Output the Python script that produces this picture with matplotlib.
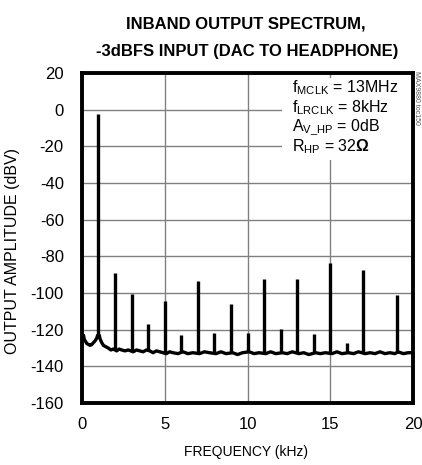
import matplotlib
matplotlib.use("Agg")
import matplotlib.pyplot as plt
import numpy as np

plt.rcParams['font.family'] = ['Liberation Sans', 'DejaVu Sans']
plt.rcParams['mathtext.fontset'] = 'custom'
plt.rcParams['mathtext.rm'] = 'Liberation Sans'
plt.rcParams['mathtext.bf'] = 'Liberation Sans:bold'
plt.rcParams['axes.unicode_minus'] = False

# noise floor (kHz, dBV)
floor_f = [0.0, 0.05, 0.1, 0.15, 0.2, 0.3, 0.4, 0.5, 0.6, 0.7, 0.8, 0.9, 0.95, 1.05, 1.1,
           1.2, 1.3, 1.4, 1.5, 1.6, 1.75, 1.9, 2.1, 2.25, 2.4, 2.6, 2.8, 3.1, 3.3, 3.5,
           3.7, 3.9, 4.1, 4.3, 4.5, 4.7, 4.9, 5.1, 5.3, 5.5, 5.8, 6.1, 6.4, 6.7, 7.1,
           7.4, 7.7, 8.1, 8.4, 8.7, 9.1, 9.4, 9.7, 10.1, 10.4, 10.7, 11.1, 11.4, 11.7,
           12.1, 12.4, 12.7, 13.1, 13.4, 13.7, 13.9, 14.1, 14.4, 14.7, 15.1, 15.4,
           15.7, 16.1, 16.4, 16.7, 17.1, 17.4, 17.7, 18.0, 18.3, 18.6, 18.9, 19.1,
           19.4, 19.7, 20.0]
floor_db = [-121, -124.5, -123, -125.5, -126, -127.5, -128, -128.5, -128, -127, -126, -124.5, -123, -123, -125,
            -127, -128.5, -129, -129.5, -130, -131, -130.5, -131.5, -130.5, -131, -131.5, -131, -132, -131, -131.5,
            -132, -131, -131.5, -132.5, -131.5, -132, -132.5, -133, -132, -132.5, -133, -132, -133, -132.5, -133,
            -132, -132.5, -133, -132, -133, -132.5, -133.5, -132.5, -132, -133, -132.5, -133, -132, -133,
            -132.5, -133, -132, -133, -132.5, -133.5, -133, -132.5, -133, -132.5, -133, -132,
            -133, -132.5, -133, -132, -133, -132.5, -133, -132, -133, -132.5, -133, -132,
            -133, -132.5, -132.5]

# harmonic spikes (kHz, dBV)
spike_f = [1, 2, 3, 4, 5, 6, 7, 8, 9, 10, 11, 12, 13, 14, 15, 16, 17, 19]
spike_db = [-2.5, -89, -100.5, -117, -104.5, -123, -93.5, -122, -106, -121.5,
            -92.5, -119.5, -92.5, -122.5, -83.5, -127, -87.5, -101]

fig = plt.figure(figsize=(4.22, 4.65), dpi=100)
ax = fig.add_axes([0.194, 0.133, 0.785, 0.71])

ax.plot(floor_f, floor_db, color='black', lw=2.4, solid_joinstyle='round')
base = np.interp(spike_f, floor_f, floor_db)
ax.vlines(spike_f, base, spike_db, color='black', lw=2.4)

ax.set_xlim(0, 20)
ax.set_ylim(-160, 20)
ax.set_xticks([0, 5, 10, 15, 20])
ax.set_yticks(range(-160, 21, 20))
ax.tick_params(length=0, labelsize=12)
ax.tick_params(axis='y', pad=13)
ax.tick_params(axis='x', pad=10)
ax.grid(True, color='#808080', lw=1.0)
for s in ax.spines.values():
    s.set_linewidth(2.8)

ax.set_xlabel('FREQUENCY (kHz)', fontsize=10)
ax.xaxis.set_label_coords(0.496, -0.128)
ax.set_ylabel('OUTPUT AMPLITUDE (dBV)', fontsize=11.5)
ax.yaxis.set_label_coords(-0.187, 0.462)
fig.text(0.582, 0.949, 'INBAND OUTPUT SPECTRUM,', ha='center', va='center',
         fontsize=12, fontweight='bold')
fig.text(0.585, 0.889, '-3dBFS INPUT (DAC TO HEADPHONE)', ha='center', va='center',
         fontsize=12, fontweight='bold')

notes = [r'f$_{\mathrm{MCLK}}$ = 13MHz', r'f$_{\mathrm{LRCLK}}$ = 8kHz',
         r'A$_{\mathrm{V\_HP}}$ = 0dB', r'R$_{\mathrm{HP}}$ = 32$\mathbf{\Omega}$']
ax.add_patch(plt.Rectangle((12.1, -27.5), 7.8, 45, facecolor='white', edgecolor='none', zorder=2))
for i, t in enumerate(notes):
    ax.text(12.7, 11.8 - i * 10.7, t, fontsize=11.5, va='center', ha='left', zorder=3)

fig.text(0.986, 0.79, 'MAX9880 toc150', rotation=270, fontsize=5, color='#555555',
         ha='center', va='center')

fig.savefig('out.png', dpi=100)
